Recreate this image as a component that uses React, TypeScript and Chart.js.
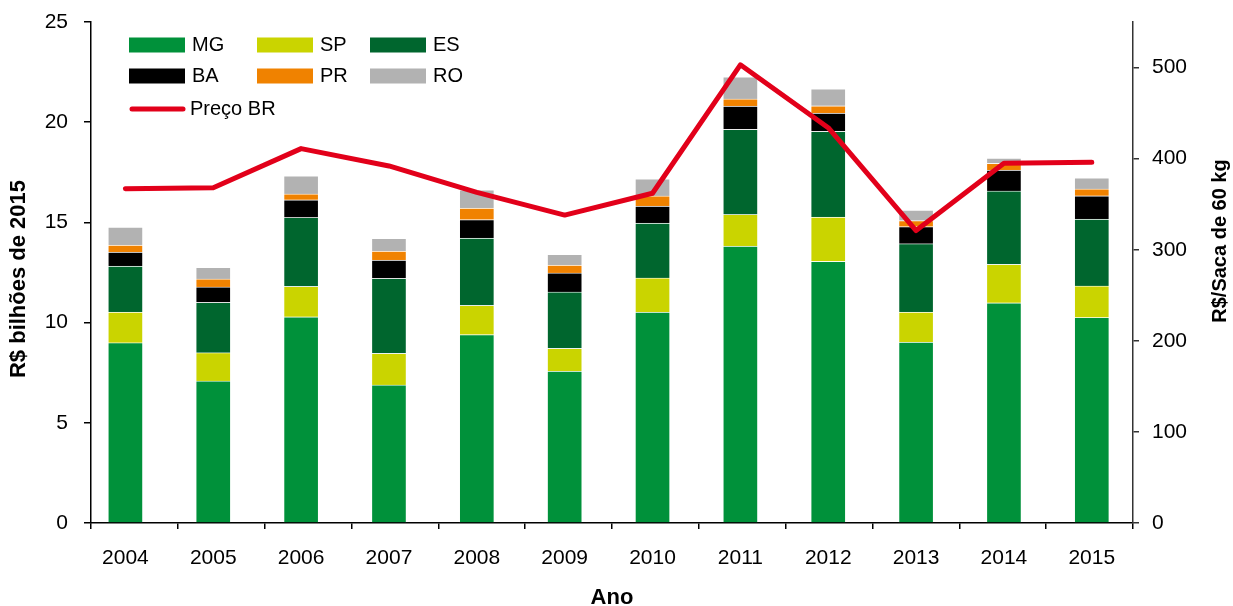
import React, { useEffect, useRef } from "react";
import { Chart, registerables } from "chart.js";

Chart.register(...registerables);

const years = ["2004", "2005", "2006", "2007", "2008", "2009", "2010", "2011", "2012", "2013", "2014", "2015"];
const mg = [9.0, 7.09, 10.29, 6.89, 9.4, 7.58, 10.53, 13.82, 13.06, 9.03, 10.99, 10.26];
const sp = [1.53, 1.41, 1.52, 1.58, 1.46, 1.14, 1.7, 1.58, 2.21, 1.5, 1.92, 1.57];
const es = [2.29, 2.51, 3.44, 3.74, 3.36, 2.81, 2.74, 4.25, 4.28, 3.41, 3.66, 3.34];
const ba = [0.7, 0.77, 0.88, 0.91, 0.92, 0.95, 0.85, 1.16, 0.91, 0.85, 1.04, 1.16];
const pr = [0.35, 0.4, 0.29, 0.45, 0.58, 0.39, 0.5, 0.35, 0.36, 0.3, 0.34, 0.34];
const ro = [0.9, 0.58, 0.9, 0.64, 0.9, 0.54, 0.85, 1.11, 0.84, 0.53, 0.26, 0.55];
const precoBR = [367, 368, 411, 392, 363, 338, 362, 503, 434, 321, 395, 396];

const leftTicks = { min: 0, max: 25, step: 5 };
const rightTicks = { min: 0, max: 550, step: 100 };

const FONT = '"Liberation Sans", Arial, Helvetica, sans-serif';
const COLORS = {
  MG: "#00913a",
  SP: "#cad400",
  ES: "#00662e",
  BA: "#000000",
  PR: "#f08200",
  RO: "#b2b2b2",
  line: "#e2001a",
};

const X_MIN = -0.3916;
const X_MAX = 11.469;

const overlayPlugin = {
  id: "overlay",
  afterDraw(chart: any) {
    const ctx = chart.ctx as CanvasRenderingContext2D;
    ctx.save();
    // legend
    const cols = [129, 257, 370];
    const rows = [45, 76, 109];
    ctx.font = `20px ${FONT}`;
    ctx.textBaseline = "middle";
    ctx.textAlign = "left";
    const ds = chart.data.datasets;
    let bi = 0;
    ds.forEach((d: any) => {
      if (d.type === "bar") {
        const x = cols[bi % 3];
        const yc = rows[Math.floor(bi / 3)];
        ctx.fillStyle = d.backgroundColor;
        ctx.fillRect(x, yc - 7.5, 56, 15);
        ctx.fillStyle = "#000";
        ctx.fillText(d.label, x + 63, yc);
        bi++;
      } else {
        const yc = rows[2];
        ctx.strokeStyle = d.borderColor;
        ctx.lineWidth = 5;
        ctx.lineCap = "round";
        ctx.beginPath();
        ctx.moveTo(132, yc);
        ctx.lineTo(183, yc);
        ctx.stroke();
        ctx.fillStyle = "#000";
        ctx.fillText(d.label, 190, yc);
      }
    });
    // axis titles
    ctx.fillStyle = "#000";
    ctx.textAlign = "center";
    ctx.textBaseline = "middle";
    ctx.font = `bold 22px ${FONT}`;
    ctx.fillText("Ano", 612, 598);
    ctx.save();
    ctx.translate(19, 279);
    ctx.rotate(-Math.PI / 2);
    ctx.fillText("R$ bilhões de 2015", 0, 0);
    ctx.restore();
    ctx.save();
    ctx.font = `bold 20px ${FONT}`;
    ctx.translate(1220, 241);
    ctx.rotate(-Math.PI / 2);
    ctx.fillText("R$/Saca de 60 kg", 0, 0);
    ctx.restore();
    ctx.restore();
  },
};

export default function App() {
  const ref = useRef<HTMLCanvasElement>(null);
  useEffect(() => {
    document.body.style.margin = "0";
    const canvas = ref.current!;
    const pts = (arr: number[]) => arr.map((v, i) => ({ x: i, y: v }));
    const bar = (label: string, data: number[], color: string) => ({
      type: "bar" as const,
      label,
      data: pts(data),
      backgroundColor: color,
      borderColor: "rgba(255,255,255,0.35)",
      borderWidth: 1,
      barThickness: 35,
      xAxisID: "x",
      yAxisID: "y",
      stack: "prod",
      order: 2,
    });
    const noPad = (s: any) => {
      s.paddingTop = 0;
      s.paddingBottom = 0;
      s.paddingLeft = 0;
      s.paddingRight = 0;
    };
    const chart = new Chart(canvas, {
      data: {
        datasets: [
          bar("MG", mg, COLORS.MG),
          bar("SP", sp, COLORS.SP),
          bar("ES", es, COLORS.ES),
          bar("BA", ba, COLORS.BA),
          bar("PR", pr, COLORS.PR),
          bar("RO", ro, COLORS.RO),
          {
            type: "line",
            label: "Preço BR",
            data: pts(precoBR),
            borderColor: COLORS.line,
            backgroundColor: COLORS.line,
            borderWidth: 5,
            pointRadius: 0,
            borderCapStyle: "round",
            borderJoinStyle: "round",
            tension: 0,
            fill: false,
            xAxisID: "x",
            yAxisID: "y1",
            order: 1,
          } as any,
        ],
      } as any,
      options: {
        responsive: false,
        maintainAspectRatio: false,
        animation: false,
        layout: { padding: { top: 22, left: 0, right: 0, bottom: 0 } },
        plugins: {
          legend: { display: false },
          tooltip: { enabled: false },
        },
        scales: {
          x: {
            type: "linear",
            position: "bottom",
            min: X_MIN,
            max: X_MAX,
            offset: false,
            stacked: true,
            weight: 1,
            grid: { display: false, offset: false },
            border: { display: false },
            afterBuildTicks: (s: any) => {
              s.ticks = years.map((_, i) => ({ value: i }));
            },
            ticks: {
              callback: (v: any) => years[v] ?? "",
              font: { family: FONT, size: 21 },
              color: "#000",
              padding: 15,
              maxRotation: 0,
              autoSkip: false,
            },
            afterFit: (s: any) => {
              s.height = 83;
              noPad(s);
            },
          },
          xt: {
            type: "category",
            labels: years,
            position: "bottom",
            offset: true,
            weight: 0,
            grid: {
              display: true,
              offset: true,
              drawOnChartArea: false,
              drawTicks: true,
              tickLength: 6,
              color: "#000",
              lineWidth: 1.5,
            },
            border: { display: true, color: "#000", width: 1.5 },
            ticks: { display: false },
            afterFit: (s: any) => {
              s.height = 0;
              noPad(s);
            },
          },
          y: {
            type: "linear",
            position: "left",
            min: leftTicks.min,
            max: leftTicks.max,
            stacked: true,
            ticks: {
              stepSize: leftTicks.step,
              font: { family: FONT, size: 21 },
              color: "#000",
              padding: 16,
            },
            grid: { drawOnChartArea: false, tickLength: 7, color: "#000", lineWidth: 1.5 },
            border: { color: "#000", width: 1.5 },
            afterFit: (s: any) => {
              s.width = 91;
              noPad(s);
            },
          },
          y1: {
            type: "linear",
            position: "right",
            min: rightTicks.min,
            max: rightTicks.max,
            stacked: false,
            ticks: {
              stepSize: rightTicks.step,
              includeBounds: false,
              font: { family: FONT, size: 21 },
              color: "#000",
              padding: 13,
            },
            grid: { drawOnChartArea: false, tickLength: 6, color: "#333", lineWidth: 1.5 },
            border: { color: "#333", width: 1.5 },
            afterFit: (s: any) => {
              s.width = 100;
              noPad(s);
            },
          },
        } as any,
      },
      plugins: [overlayPlugin],
    });
    return () => chart.destroy();
  }, []);
  return (
    <div style={{ width: 1233, height: 606, background: "#fff" }}>
      <canvas ref={ref} width={1233} height={606} style={{ display: "block" }} />
    </div>
  );
}
